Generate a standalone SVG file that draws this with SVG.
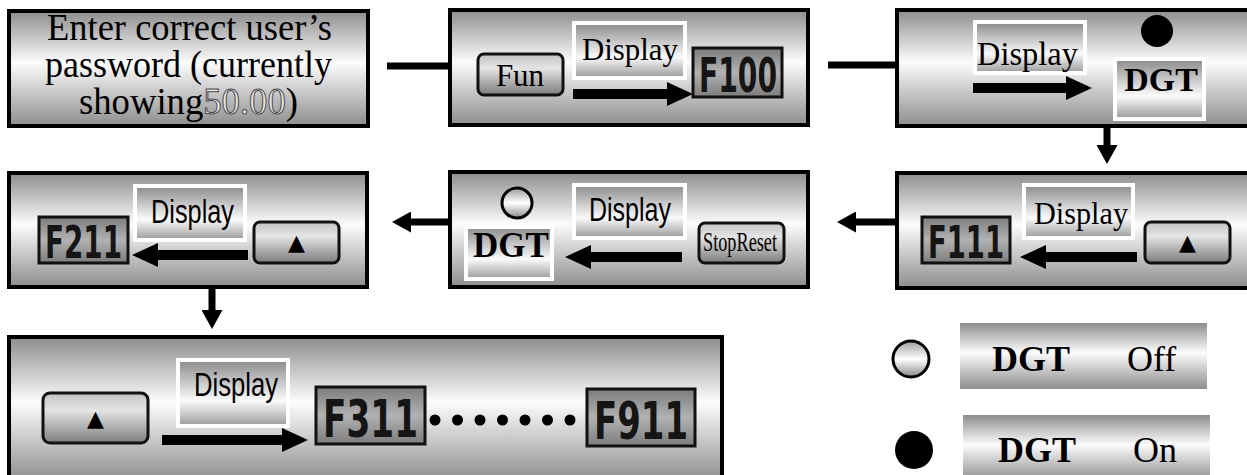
<svg xmlns="http://www.w3.org/2000/svg" width="1247" height="475" viewBox="0 0 1247 475">
  <defs>
    <linearGradient id="boxGrad" x1="0" y1="0" x2="0" y2="1">
      <stop offset="0" stop-color="#8d8d8d"/>
      <stop offset="0.45" stop-color="#fcfcfc"/>
      <stop offset="1" stop-color="#8d8d8d"/>
    </linearGradient>
    <linearGradient id="dispGrad" x1="0" y1="0" x2="0" y2="1">
      <stop offset="0" stop-color="#8a8a8a"/>
      <stop offset="0.62" stop-color="#fafafa"/>
      <stop offset="1" stop-color="#9a9a9a"/>
    </linearGradient>
    <linearGradient id="btnGrad" x1="0" y1="0" x2="0" y2="1">
      <stop offset="0" stop-color="#c4c4c4"/>
      <stop offset="0.35" stop-color="#e4e4e4"/>
      <stop offset="1" stop-color="#7c7c7c"/>
    </linearGradient>
    <linearGradient id="lcdGrad" x1="0" y1="0" x2="0" y2="1">
      <stop offset="0" stop-color="#7c7c7c"/>
      <stop offset="0.5" stop-color="#b2b2b2"/>
      <stop offset="1" stop-color="#7c7c7c"/>
    </linearGradient>
    <linearGradient id="ringGrad" x1="0" y1="0" x2="0" y2="1">
      <stop offset="0" stop-color="#9c9c9c"/>
      <stop offset="0.5" stop-color="#ffffff"/>
      <stop offset="1" stop-color="#8a8a8a"/>
    </linearGradient>
    <marker id="bigHead" markerUnits="userSpaceOnUse" markerWidth="26" markerHeight="24" refX="0" refY="12" orient="auto">
      <path d="M0,0 L26,12 L0,24 z" fill="#000"/>
    </marker>
    <marker id="linkHead" markerUnits="userSpaceOnUse" markerWidth="19" markerHeight="21" refX="0" refY="10.5" orient="auto">
      <path d="M0,0 L19,10.5 L0,21 z" fill="#000"/>
    </marker>
    <style>
      .box { fill: url(#boxGrad); stroke: #000; stroke-width: 4; }
      .disp { fill: url(#dispGrad); stroke: #fff; stroke-width: 4; }
      .btn { fill: url(#btnGrad); stroke: #111; stroke-width: 3; }
      .lcd { fill: url(#lcdGrad); stroke: #111; stroke-width: 3; }
      .tag { fill: url(#boxGrad); stroke: none; }
      .serif { font-family: "Liberation Serif", "Times New Roman", serif; fill: #000; }
      .sans { font-family: "Liberation Sans", Arial, sans-serif; fill: #000; }
      .bold { font-weight: bold; }
      .seg { font-family: "DejaVu Sans", "Liberation Sans", sans-serif; font-weight: bold; fill: #151515; }
      .tri { font-family: "DejaVu Sans", sans-serif; fill: #000; }
      .flow { stroke: #000; stroke-width: 10; fill: none; marker-end: url(#bigHead); }
      .link { stroke: #000; stroke-width: 7; fill: none; }
      .linkArrow { stroke: #000; stroke-width: 7; fill: none; marker-end: url(#linkHead); }
      .hollow { fill: #e6e6e6; stroke: #4a4a4a; stroke-width: 1; }
    </style>
  </defs>

  <!-- connectors between the steps -->
  <g id="connectors">
    <line class="link" x1="387" y1="66" x2="450" y2="66"/>
    <line class="link" x1="828" y1="65" x2="897" y2="65"/>
    <line class="linkArrow" x1="1107" y1="126" x2="1107" y2="145"/>
    <line class="linkArrow" x1="897" y1="222" x2="856" y2="222"/>
    <line class="linkArrow" x1="450" y1="222" x2="411" y2="222"/>
    <line class="linkArrow" x1="212" y1="287" x2="212" y2="310"/>
  </g>

  <!-- step 1: password entry -->
  <g id="step-password">
    <rect class="box" x="9" y="11" width="359" height="115"/>
    <text class="serif" x="47" y="40" font-size="37" textLength="285" lengthAdjust="spacingAndGlyphs">Enter correct user’s</text>
    <text class="serif" x="45" y="77" font-size="37" textLength="287" lengthAdjust="spacingAndGlyphs">password (currently</text>
    <text class="serif" x="79" y="114" font-size="37" textLength="219" lengthAdjust="spacingAndGlyphs">showing<tspan class="hollow">50.00</tspan>)</text>
  </g>

  <!-- step 2: Fun shows F100 -->
  <g id="step-fun">
    <rect class="box" x="450" y="10" width="358" height="115"/>
    <rect class="btn" x="478" y="54" width="85" height="41" rx="6"/>
    <text class="serif" x="520" y="86" font-size="31" text-anchor="middle">Fun</text>
    <rect class="disp" x="574" y="23" width="111" height="55"/>
    <text class="serif" x="582" y="60" font-size="32" textLength="96" lengthAdjust="spacingAndGlyphs">Display</text>
    <line class="flow" x1="573" y1="94" x2="667" y2="94"/>
    <rect class="lcd" x="693" y="48" width="89" height="49"/>
    <text class="seg" x="699" y="92" font-size="48" textLength="78" lengthAdjust="spacingAndGlyphs">F100</text>
  </g>

  <!-- step 3: DGT lamp on -->
  <g id="step-dgt-on">
    <rect class="box" x="897" y="10" width="356" height="116"/>
    <rect class="disp" x="975" y="22" width="110" height="51"/>
    <text class="serif" x="977" y="65" font-size="33" textLength="101" lengthAdjust="spacingAndGlyphs">Display</text>
    <line class="flow" x1="973" y1="88" x2="1066" y2="88"/>
    <circle cx="1157" cy="31" r="16" fill="#000"/>
    <rect class="disp" x="1115" y="59" width="89" height="60"/>
    <text class="serif bold" x="1161" y="91" font-size="34" text-anchor="middle">DGT</text>
  </g>

  <!-- step 4: up key shows F111 -->
  <g id="step-f111">
    <rect class="box" x="897" y="173" width="356" height="115"/>
    <rect class="lcd" x="922" y="217" width="88" height="46"/>
    <text class="seg" x="928" y="258" font-size="45" textLength="76" lengthAdjust="spacingAndGlyphs">F111</text>
    <rect class="disp" x="1024" y="185" width="109" height="53"/>
    <text class="serif" x="1034" y="224" font-size="32" textLength="94" lengthAdjust="spacingAndGlyphs">Display</text>
    <line class="flow" x1="1137" y1="257" x2="1046" y2="257"/>
    <rect class="btn" x="1145" y="222" width="85" height="41" rx="6"/>
    <text class="tri" x="1187.5" y="250" font-size="22" text-anchor="middle">▲</text>
  </g>

  <!-- step 5: Stop/Reset, DGT lamp off -->
  <g id="step-dgt-off">
    <rect class="box" x="450" y="172" width="358" height="115"/>
    <circle cx="517" cy="203" r="15" fill="url(#ringGrad)" stroke="#000" stroke-width="3"/>
    <rect class="disp" x="466" y="227" width="86" height="52"/>
    <text class="serif bold" x="511" y="257" font-size="35" text-anchor="middle">DGT</text>
    <rect class="disp" x="574" y="185" width="111" height="53"/>
    <text class="sans" x="589" y="221" font-size="34" textLength="82" lengthAdjust="spacingAndGlyphs">Display</text>
    <line class="flow" x1="682" y1="257" x2="591" y2="257"/>
    <rect class="btn" x="699" y="223" width="85" height="40" rx="6"/>
    <text class="serif" x="703" y="251" font-size="27" textLength="74" lengthAdjust="spacingAndGlyphs">StopReset</text>
  </g>

  <!-- step 6: up key shows F211 -->
  <g id="step-f211">
    <rect class="box" x="9" y="173" width="358" height="114"/>
    <rect class="lcd" x="39" y="217" width="89" height="46"/>
    <text class="seg" x="45" y="258" font-size="45" textLength="77" lengthAdjust="spacingAndGlyphs">F211</text>
    <rect class="disp" x="135" y="186" width="110" height="54"/>
    <text class="sans" x="151" y="223" font-size="34" textLength="83" lengthAdjust="spacingAndGlyphs">Display</text>
    <line class="flow" x1="248" y1="255" x2="158" y2="255"/>
    <rect class="btn" x="254" y="222" width="85" height="41" rx="6"/>
    <text class="tri" x="296.5" y="250" font-size="22" text-anchor="middle">▲</text>
  </g>

  <!-- step 7: up key steps F311 ... F911 -->
  <g id="step-f311-f911">
    <rect class="box" x="9" y="337" width="713" height="145"/>
    <rect class="btn" x="43" y="393" width="105" height="50" rx="7"/>
    <text class="tri" x="95.5" y="426" font-size="22" text-anchor="middle">▲</text>
    <rect class="disp" x="178" y="360" width="110" height="66"/>
    <text class="sans" x="194" y="396" font-size="34" textLength="84" lengthAdjust="spacingAndGlyphs">Display</text>
    <line class="flow" x1="162" y1="440" x2="282" y2="440"/>
    <rect class="lcd" x="316" y="387" width="109" height="57"/>
    <text class="seg" x="323" y="437" font-size="52" textLength="95" lengthAdjust="spacingAndGlyphs">F311</text>
    <g fill="#000">
      <circle cx="435" cy="420" r="5.5"/>
      <circle cx="457.5" cy="420" r="5.5"/>
      <circle cx="480" cy="420" r="5.5"/>
      <circle cx="502.5" cy="420" r="5.5"/>
      <circle cx="525" cy="420" r="5.5"/>
      <circle cx="547.5" cy="420" r="5.5"/>
      <circle cx="570" cy="420" r="5.5"/>
    </g>
    <rect class="lcd" x="587" y="389" width="108" height="57"/>
    <text class="seg" x="594" y="439" font-size="52" textLength="94" lengthAdjust="spacingAndGlyphs">F911</text>
  </g>

  <!-- legend: DGT lamp states -->
  <g id="legend-off">
    <circle cx="911" cy="359" r="18" fill="url(#ringGrad)" stroke="#000" stroke-width="3"/>
    <rect class="tag" x="960" y="323" width="247" height="66"/>
    <text class="serif bold" x="992" y="371" font-size="36">DGT</text>
    <text class="serif" x="1127" y="371" font-size="36">Off</text>
  </g>
  <g id="legend-on">
    <circle cx="914" cy="450" r="19" fill="#000"/>
    <rect class="tag" x="963" y="415" width="247" height="66"/>
    <text class="serif bold" x="998" y="462" font-size="36">DGT</text>
    <text class="serif" x="1133" y="462" font-size="36">On</text>
  </g>
</svg>
